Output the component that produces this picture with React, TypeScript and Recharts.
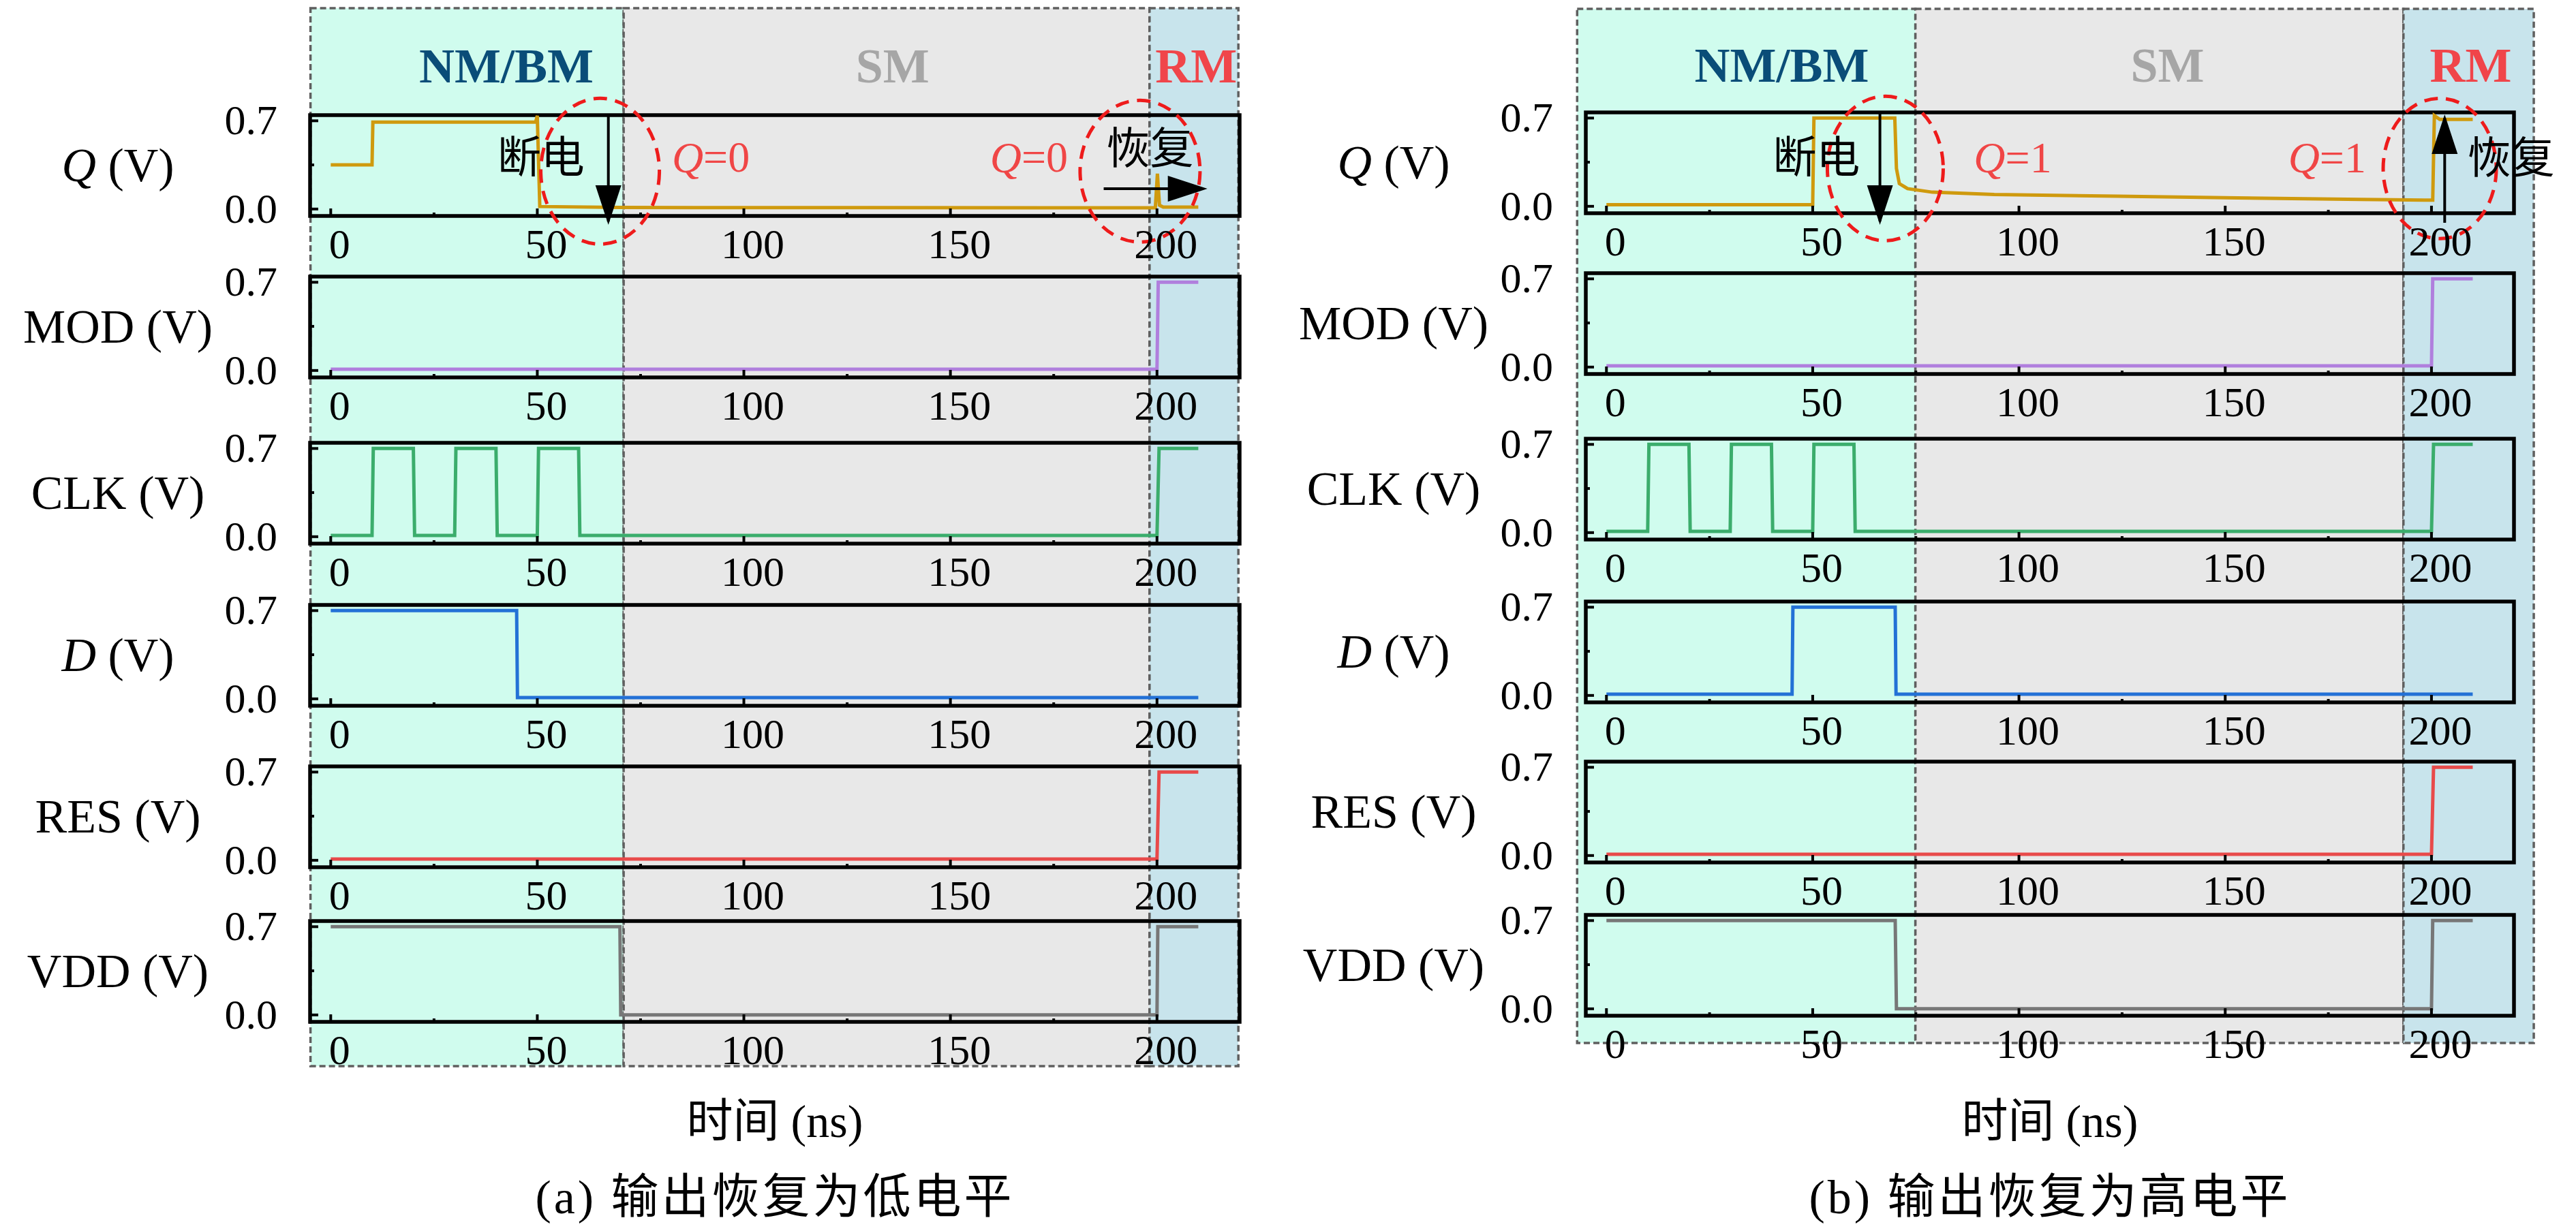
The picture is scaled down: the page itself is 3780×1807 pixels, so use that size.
import React from "react"
import { LineChart, Line, XAxis, YAxis, ReferenceArea, ReferenceDot, ReferenceLine } from "recharts"

const FONT = '"Liberation Serif", "Noto Sans CJK SC", serif'

// shared axes (time in ns, voltage in V)
const xDomain = [-5, 220]
const xTicks = [0, 25, 50, 75, 100, 125, 150, 175, 200]
const yDomain = [-0.055, 0.745]
const yTicks = [0, 0.35, 0.7]

const signals = ["Q", "MOD", "CLK", "D", "RES", "VDD"]
const italicSignals = ["Q", "D"]
const colors = ["#cf9a0e", "#b07fdd", "#3bad6c", "#2371d6", "#e84a4a", "#777777"]

const regionNames = ["NM/BM", "SM", "RM"]
const regionColors = ["#d0fcee", "#e8e8e8", "#c8e4ec"]
const regionTextColors = ["#0a4d78", "#a6a6a6", "#f0454a"]
const regionLabelT = [42.5, 136, 209.5]

// (a) output restored to low level
const tA_Q = [0, 10, 10.2, 49.6, 50, 50.6, 70, 199.6, 200.1, 200.6, 201.5, 210]
const vA_Q = [0.35, 0.35, 0.69, 0.69, 0.74, 0.02, 0.012, 0.01, 0.28, 0.03, 0.015, 0.015]
const tA_MOD = [0, 200, 200.3, 210]
const vA_MOD = [0.01, 0.01, 0.7, 0.7]
const tA_CLK = [0, 10, 10.3, 20, 20.3, 30, 30.3, 40, 40.3, 50, 50.3, 60, 60.3, 200, 200.5, 210]
const vA_CLK = [0.01, 0.01, 0.7, 0.7, 0.01, 0.01, 0.7, 0.7, 0.01, 0.01, 0.7, 0.7, 0.01, 0.01, 0.7, 0.7]
const tA_D = [0, 45, 45.2, 210]
const vA_D = [0.7, 0.7, 0.01, 0.01]
const tA_RES = [0, 200, 200.5, 210]
const vA_RES = [0.01, 0.01, 0.7, 0.7]
const tA_VDD = [0, 70, 70.2, 200, 200.2, 210]
const vA_VDD = [0.7, 0.7, 0.0, 0.0, 0.7, 0.7]
const regionsA = [-4.9, 70.9, 198.2, 219.7]

// (b) output restored to high level
const tB_Q = [0, 50, 50.3, 69.9, 70.3, 71, 73, 79, 94, 124, 153, 183, 200.3, 200.7, 202, 210]
const vB_Q = [0.012, 0.012, 0.7, 0.7, 0.3, 0.18, 0.14, 0.112, 0.094, 0.08, 0.067, 0.054, 0.049, 0.72, 0.69, 0.69]
const tB_MOD = [0, 200, 200.3, 210]
const vB_MOD = [0.01, 0.01, 0.7, 0.7]
const tB_CLK = [0, 10, 10.3, 20, 20.3, 30, 30.3, 40, 40.3, 50, 50.3, 60, 60.3, 200, 200.5, 210]
const vB_CLK = [0.01, 0.01, 0.7, 0.7, 0.01, 0.01, 0.7, 0.7, 0.01, 0.01, 0.7, 0.7, 0.01, 0.01, 0.7, 0.7]
const tB_D = [0, 45, 45.2, 70, 70.2, 210]
const vB_D = [0.01, 0.01, 0.7, 0.7, 0.01, 0.01]
const tB_RES = [0, 200, 200.5, 210]
const vB_RES = [0.01, 0.01, 0.7, 0.7]
const tB_VDD = [0, 70, 70.3, 200, 200.3, 210]
const vB_VDD = [0.7, 0.7, 0.0, 0.0, 0.7, 0.7]
const regionsB = [-7.1, 74.9, 193.2, 224.8]

const PAD_T = 30
const PAD_R = 80
const AXIS_W = 200
const XAXIS_H = 90
const FRAME_H = 148
const TICK_M = 20
const RED = "#ee1b1b"

function XTick(props: any) {
  const { x, y, payload } = props
  const base = y - TICK_M
  const major = payload.value % 50 === 0
  return (
    <g>
      <line x1={x} x2={x} y1={base} y2={base - (major ? 11 : 5)} stroke="#000" strokeWidth={4} />
      {major && (
        <text x={x + 13} y={base + 62} textAnchor="middle" fontSize={62} fontFamily={FONT} fill="#000">
          {payload.value}
        </text>
      )}
    </g>
  )
}

function YTick(props: any) {
  const { x, y, payload } = props
  const base = x + TICK_M
  const major = payload.value !== 0.35
  return (
    <g>
      <line x1={base} x2={base + (major ? 12 : 6)} y1={y} y2={y} stroke="#000" strokeWidth={4} />
      {major && (
        <text x={base - 48} y={y + 20} textAnchor="end" fontSize={62} fontFamily={FONT} fill="#000">
          {payload.value.toFixed(1)}
        </text>
      )}
    </g>
  )
}

const ring = (rx: number, ry: number) => (p: any) => (
  <ellipse cx={p.cx} cy={p.cy} rx={rx} ry={ry} fill="none" stroke={RED} strokeWidth={5} strokeDasharray="20 12" />
)

const note = (text: React.ReactNode, color: string) => (p: any) => (
  <text x={p.cx} y={p.cy} textAnchor="middle" dominantBaseline="central" fontSize={64} fontFamily={FONT} fill={color}>
    {text}
  </text>
)

const head = (dir: string) => (p: any) => {
  const { cx, cy } = p
  const pts =
    dir === "down"
      ? `${cx},${cy} ${cx - 19},${cy - 58} ${cx + 19},${cy - 58}`
      : dir === "up"
      ? `${cx},${cy} ${cx - 19},${cy + 58} ${cx + 19},${cy + 58}`
      : `${cx},${cy} ${cx - 58},${cy - 19} ${cx - 58},${cy + 19}`
  return <polygon points={pts} fill="#000" />
}

const qText = (n: string) => (
  <>
    <tspan fontStyle="italic">Q</tspan>={n}
  </>
)

function Trace({ left, top, width, t, v, color, children }: any) {
  const data = t.map((x: number, i: number) => ({ t: x, v: v[i] }))
  return (
    <div style={{ position: "absolute", left: left - AXIS_W, top: top - PAD_T }}>
      <LineChart
        width={AXIS_W + width + PAD_R}
        height={PAD_T + FRAME_H + XAXIS_H}
        data={data}
        margin={{ top: PAD_T, right: PAD_R, left: 0, bottom: 0 }}
      >
        <XAxis
          dataKey="t"
          type="number"
          domain={xDomain}
          ticks={xTicks}
          interval={0}
          allowDataOverflow
          axisLine={false}
          tickLine={false}
          tickSize={0}
          tickMargin={TICK_M}
          height={XAXIS_H}
          tick={(p: any) => <XTick {...p} />}
        />
        <YAxis
          type="number"
          domain={yDomain}
          ticks={yTicks}
          interval={0}
          allowDataOverflow
          axisLine={false}
          tickLine={false}
          tickSize={0}
          tickMargin={TICK_M}
          width={AXIS_W}
          tick={(p: any) => <YTick {...p} />}
        />
        <ReferenceArea x1={xDomain[0]} x2={xDomain[1]} y1={yDomain[0]} y2={yDomain[1]} fill="none" stroke="#000" strokeWidth={5.5} />
        <Line dataKey="v" type="linear" stroke={color} strokeWidth={5} dot={false} isAnimationActive={false} />
        {children}
      </LineChart>
    </div>
  )
}

function Regions({ left, width, top, bottom, bounds }: any) {
  const data = regionLabelT.map((x) => ({ t: x, y: 0.945 }))
  return (
    <div style={{ position: "absolute", left: left - AXIS_W, top }}>
      <LineChart width={AXIS_W + width + PAD_R} height={bottom - top} data={data} margin={{ top: 0, right: PAD_R, left: AXIS_W, bottom: 0 }}>
        <XAxis dataKey="t" type="number" domain={xDomain} allowDataOverflow height={0} tick={false} tickLine={false} axisLine={false} />
        <YAxis type="number" domain={[0, 1]} allowDataOverflow width={0} tick={false} tickLine={false} axisLine={false} />
        {regionNames.map((name, i) => (
          <ReferenceArea
            key={name}
            x1={bounds[i]}
            x2={bounds[i + 1]}
            y1={0}
            y2={1}
            ifOverflow="visible"
            fill={regionColors[i]}
            fillOpacity={1}
            stroke="#5f5f5f"
            strokeWidth={3.5}
            strokeDasharray="9 5"
          />
        ))}
        <Line dataKey="y" stroke="none" dot={false} isAnimationActive={false} />
        {regionNames.map((name, i) => (
          <ReferenceDot
            key={"l" + name}
            x={regionLabelT[i]}
            y={0.945}
            ifOverflow="visible"
            shape={(p: any) => (
              <text x={p.cx} y={p.cy} textAnchor="middle" dominantBaseline="central" fontSize={72} fontWeight="bold" fontFamily={FONT} fill={regionTextColors[i]}>
                {name}
              </text>
            )}
          />
        ))}
      </LineChart>
    </div>
  )
}

function Panel({ layout, series, bounds, notes, caption }: any) {
  const { left, width, tops, bgTop, bgBottom } = layout
  const center = left + width / 2
  return (
    <>
      <Regions left={left} width={width} top={bgTop} bottom={bgBottom} bounds={bounds} />
      {signals.map((name, i) => (
        <React.Fragment key={name}>
          <div
            style={{
              position: "absolute",
              left: left - 282 - 250,
              width: 500,
              top: tops[i] + FRAME_H / 2 - 40,
              height: 80,
              lineHeight: "80px",
              textAlign: "center",
              fontSize: 70,
              fontFamily: FONT,
            }}
          >
            {italicSignals.includes(name) ? <i>{name}</i> : name} (V)
          </div>
          <Trace left={left} top={tops[i]} width={width} t={series[i][0]} v={series[i][1]} color={colors[i]}>
            {i === 0 ? notes : null}
          </Trace>
        </React.Fragment>
      ))}
      <div style={{ position: "absolute", left: center - 400, width: 800, top: 1606, height: 80, lineHeight: "80px", textAlign: "center", fontSize: 68, fontFamily: FONT }}>
        时间 (ns)
      </div>
      <div style={{ position: "absolute", left: center - 500, width: 1000, top: 1718, height: 80, lineHeight: "80px", textAlign: "center", fontSize: 70, letterSpacing: 4, fontFamily: FONT }}>
        {caption}
      </div>
    </>
  )
}

const notesA = [
  <ReferenceDot key="c1" x={65.2} y={0.3} ifOverflow="visible" shape={ring(87, 107)} />,
  <ReferenceDot key="c2" x={195.9} y={0.3} ifOverflow="visible" shape={ring(88, 104)} />,
  <ReferenceDot key="t1" x={50.9} y={0.405} ifOverflow="visible" shape={note("断电", "#000")} />,
  <ReferenceDot key="t2" x={92} y={0.41} ifOverflow="visible" shape={note(qText("0"), "#f04646")} />,
  <ReferenceDot key="t3" x={169} y={0.41} ifOverflow="visible" shape={note(qText("0"), "#f04646")} />,
  <ReferenceDot key="t4" x={198.3} y={0.48} ifOverflow="visible" shape={note("恢复", "#000")} />,
  <ReferenceLine key="a1" segment={[{ x: 67.2, y: 0.745 }, { x: 67.2, y: -0.1 }]} stroke="#000" strokeWidth={4} ifOverflow="visible" />,
  <ReferenceDot key="h1" x={67.2} y={-0.125} ifOverflow="visible" shape={head("down")} />,
  <ReferenceLine key="a2" segment={[{ x: 187.1, y: 0.161 }, { x: 208, y: 0.161 }]} stroke="#000" strokeWidth={4} ifOverflow="visible" />,
  <ReferenceDot key="h2" x={212.2} y={0.161} ifOverflow="visible" shape={head("right")} />,
]

const notesB = [
  <ReferenceDot key="c1" x={67.6} y={0.3} ifOverflow="visible" shape={ring(85, 106)} />,
  <ReferenceDot key="c2" x={202} y={0.3} ifOverflow="visible" shape={ring(83, 103)} />,
  <ReferenceDot key="t1" x={50.9} y={0.383} ifOverflow="visible" shape={note("断电", "#000")} />,
  <ReferenceDot key="t2" x={98.5} y={0.388} ifOverflow="visible" shape={note(qText("1"), "#f04646")} />,
  <ReferenceDot key="t3" x={174.7} y={0.388} ifOverflow="visible" shape={note(qText("1"), "#f04646")} />,
  <ReferenceDot key="t4" x={219.3} y={0.38} ifOverflow="visible" shape={note("恢复", "#000")} />,
  <ReferenceLine key="a1" segment={[{ x: 66.3, y: 0.745 }, { x: 66.3, y: -0.12 }]} stroke="#000" strokeWidth={4} ifOverflow="visible" />,
  <ReferenceDot key="h1" x={66.3} y={-0.147} ifOverflow="visible" shape={head("down")} />,
  <ReferenceLine key="a2" segment={[{ x: 203.2, y: -0.131 }, { x: 203.2, y: 0.7 }]} stroke="#000" strokeWidth={4} ifOverflow="visible" />,
  <ReferenceDot key="h2" x={203.2} y={0.729} ifOverflow="visible" shape={head("up")} />,
]

const layoutA = { left: 455, width: 1364, tops: [169, 406, 650, 888, 1125, 1352], bgTop: 12, bgBottom: 1565 }
const layoutB = { left: 2327, width: 1362, tops: [165, 401, 644, 883, 1118, 1343], bgTop: 13, bgBottom: 1531 }

const seriesA = [
  [tA_Q, vA_Q],
  [tA_MOD, vA_MOD],
  [tA_CLK, vA_CLK],
  [tA_D, vA_D],
  [tA_RES, vA_RES],
  [tA_VDD, vA_VDD],
]
const seriesB = [
  [tB_Q, vB_Q],
  [tB_MOD, vB_MOD],
  [tB_CLK, vB_CLK],
  [tB_D, vB_D],
  [tB_RES, vB_RES],
  [tB_VDD, vB_VDD],
]

export default function App() {
  return (
    <div style={{ position: "absolute", left: 0, top: 0, width: 3780, height: 1807, background: "#fff", fontFamily: FONT }}>
      <style>{`.recharts-surface{overflow:visible}.recharts-wrapper{overflow:visible}`}</style>
      <Panel layout={layoutA} series={seriesA} bounds={regionsA} notes={notesA} caption="(a) 输出恢复为低电平" />
      <Panel layout={layoutB} series={seriesB} bounds={regionsB} notes={notesB} caption="(b) 输出恢复为高电平" />
    </div>
  )
}
